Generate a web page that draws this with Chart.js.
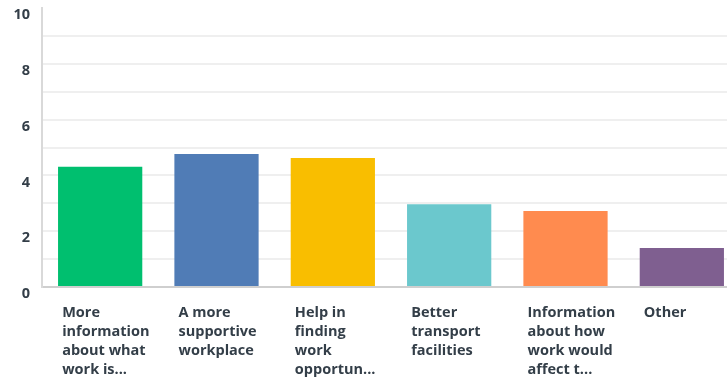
<!DOCTYPE html>
<html>
<head>
<meta charset="utf-8">
<script src="https://cdn.jsdelivr.net/npm/chart.js@4/dist/chart.umd.min.js"></script>
<style>
  html, body { margin: 0; padding: 0; background: #fff; overflow: hidden; }
  #wrap { width: 740px; height: 380px; position: relative; }
</style>
</head>
<body>
<div id="wrap"><canvas id="chart"></canvas></div>
<script>
// answer options, already wrapped and cut the way the survey tool shows them
const answerLabels = [
  ['More', 'information', 'about what', 'work is...'],
  ['A more', 'supportive', 'workplace'],
  ['Help in', 'finding', 'work', 'opportun...'],
  ['Better', 'transport', 'facilities'],
  ['Information', 'about how', 'work would', 'affect t...'],
  ['Other']
]
const averageScores = [4.31, 4.77, 4.62, 2.97, 2.72, 1.40]
const barColors = ['#00bf6f', '#507cb6', '#f9be00', '#6bc8cd', '#ff8b4f', '#7f5f90']
const yTickLabels = ['0', '2', '4', '6', '8', '10']

const textColor = '#333e48'
const labelFont = { family: '"Open Sans", sans-serif', size: 14.5, weight: 'bold', lineHeight: 19 / 14.5 }

new Chart(document.getElementById('chart'), {
  type: 'bar',
  data: {
    labels: answerLabels,
    datasets: [{
      data: averageScores,
      backgroundColor: barColors,
      borderWidth: 0,
      barPercentage: 1,
      categoryPercentage: 84 / 116
    }]
  },
  options: {
    responsive: true,
    maintainAspectRatio: false,
    animation: false,
    layout: { padding: { top: 8, left: 0, right: 0, bottom: 0 } },
    plugins: { legend: { display: false }, tooltip: { enabled: false } },
    scales: {
      x: {
        grid: { display: false, drawTicks: false },
        border: { color: '#cfcfcf', width: 2 },
        afterFit: s => { s.height = 93; s.paddingLeft = 0; s.paddingRight = 0 },
        ticks: {
          color: textColor,
          font: labelFont,
          align: 'start',
          labelOffset: -38,
          padding: 16,
          maxRotation: 0,
          autoSkip: false
        }
      },
      y: {
        min: 0,
        max: 10,
        afterFit: s => { s.width = 42; s.paddingTop = 0; s.paddingBottom = 0 },
        grid: {
          drawTicks: false,
          lineWidth: 2,
          color: ctx => (ctx.tick && (ctx.tick.value === 10 || ctx.tick.value === 0)) ? 'rgba(0,0,0,0)' : '#efefef'
        },
        border: { color: '#d9d9d9', width: 2 },
        ticks: {
          stepSize: 1,
          color: textColor,
          font: labelFont,
          padding: 12,
          labelOffset: 7,
          callback: v => v % 2 === 0 ? yTickLabels[v / 2] : ''
        }
      }
    }
  }
})
</script>
</body>
</html>
